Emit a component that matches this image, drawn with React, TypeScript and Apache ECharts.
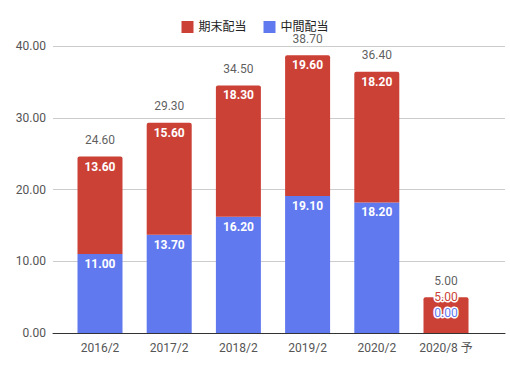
import React, { useEffect, useRef } from "react";
import * as echarts from "echarts";

const categories = ["2016/2", "2017/2", "2018/2", "2019/2", "2020/2", "2020/8 予"];
const interimValues = [11.0, 13.7, 16.2, 19.1, 18.2, 0.0];
const finalValues = [13.6, 15.6, 18.3, 19.6, 18.2, 5.0];
const totalValues = [24.6, 29.3, 34.5, 38.7, 36.4, 5.0];
const yTicks = { min: 0, max: 40, interval: 10 };

const RED = "#cc4136";
const BLUE = "#6079ef";
const FONT = 'Roboto, "Noto Sans CJK JP", sans-serif';

export default function App() {
  const ref = useRef<HTMLDivElement>(null);
  useEffect(() => {
    if (!ref.current) return;
    const chart = echarts.init(ref.current, null, { renderer: "svg" });
    const fmt = (v: number) => v.toFixed(2);
    const lastIdx = categories.length - 1;
    const interimData = interimValues.map((v, i) =>
      i === lastIdx
        ? {
            value: v,
            label: {
              position: "top",
              distance: 14,
              color: BLUE,
              fontWeight: "normal",
              textBorderColor: "#fff",
              textBorderWidth: 3,
            },
          }
        : v
    );
    const finalData = finalValues.map((v, i) =>
      i === lastIdx
        ? {
            value: v,
            label: {
              position: "insideTop",
              distance: 0,
              offset: [0, -6],
              color: RED,
              fontWeight: "normal",
              textBorderColor: "#fff",
              textBorderWidth: 3,
            },
          }
        : v
    );
    chart.setOption({
      animation: false,
      textStyle: { fontFamily: FONT },
      legend: {
        top: 16,
        left: "center",
        itemWidth: 12,
        itemHeight: 12,
        itemGap: 17,
        icon: "rect",
        textStyle: { color: "#222", fontSize: 12, fontFamily: FONT },
        data: ["期末配当", "中間配当"],
      },
      grid: [
        { left: 65.4, right: 29.4, top: 46, bottom: 35 },
        { left: 53, right: 5, top: 46, bottom: 35 },
      ],
      xAxis: [
        {
          type: "category",
          gridIndex: 0,
          data: categories,
          axisLine: { show: false },
          axisTick: { show: false },
          axisLabel: { color: "#555", fontSize: 12, margin: 9, interval: 0, fontFamily: FONT },
        },
        {
          type: "value",
          gridIndex: 1,
          min: 0,
          max: 1,
          axisLine: { show: true, onZero: false, lineStyle: { color: "#333", width: 1 } },
          axisTick: { show: false },
          axisLabel: { show: false },
          splitLine: { show: false },
        },
      ],
      yAxis: [
        {
          type: "value",
          gridIndex: 0,
          min: yTicks.min,
          max: yTicks.max,
          interval: yTicks.interval,
          show: false,
          splitLine: { show: false },
        },
        {
          type: "value",
          gridIndex: 1,
          min: yTicks.min,
          max: yTicks.max,
          interval: yTicks.interval,
          axisLine: { show: false },
          axisTick: { show: false },
          axisLabel: {
            color: "#555",
            fontSize: 12,
            margin: 7,
            formatter: (v: number) => v.toFixed(2),
            fontFamily: FONT,
          },
          splitLine: { lineStyle: { color: "#ccc", width: 1 } },
        },
      ],
      series: [
        {
          name: "中間配当",
          type: "bar",
          stack: "total",
          xAxisIndex: 0,
          yAxisIndex: 0,
          barWidth: 45,
          itemStyle: { color: BLUE },
          label: {
            show: true,
            position: "insideTop",
            distance: 4,
            color: "#fff",
            fontWeight: "bold",
            fontSize: 12,
            fontFamily: FONT,
            formatter: (p: any) => fmt(p.value),
          },
          data: interimData,
        },
        {
          name: "期末配当",
          type: "bar",
          stack: "total",
          xAxisIndex: 0,
          yAxisIndex: 0,
          barWidth: 45,
          itemStyle: { color: RED, borderRadius: [2, 2, 0, 0] },
          label: {
            show: true,
            position: "insideTop",
            distance: 4,
            color: "#fff",
            fontWeight: "bold",
            fontSize: 12,
            fontFamily: FONT,
            formatter: (p: any) => fmt(p.value),
          },
          data: finalData,
        },
        {
          name: "合計",
          type: "scatter",
          xAxisIndex: 0,
          yAxisIndex: 0,
          symbol: "circle",
          symbolSize: 1,
          itemStyle: { color: "rgba(0,0,0,0)" },
          silent: true,
          label: {
            show: true,
            position: "top",
            distance: 10,
            color: "#333",
            fontSize: 12,
            fontFamily: FONT,
            formatter: (p: any) => fmt(p.value),
          },
          data: totalValues,
        },
      ],
    });
    return () => chart.dispose();
  }, []);
  return <div ref={ref} style={{ width: 510, height: 368, position: "absolute", left: 0, top: 0 }} />;
}
